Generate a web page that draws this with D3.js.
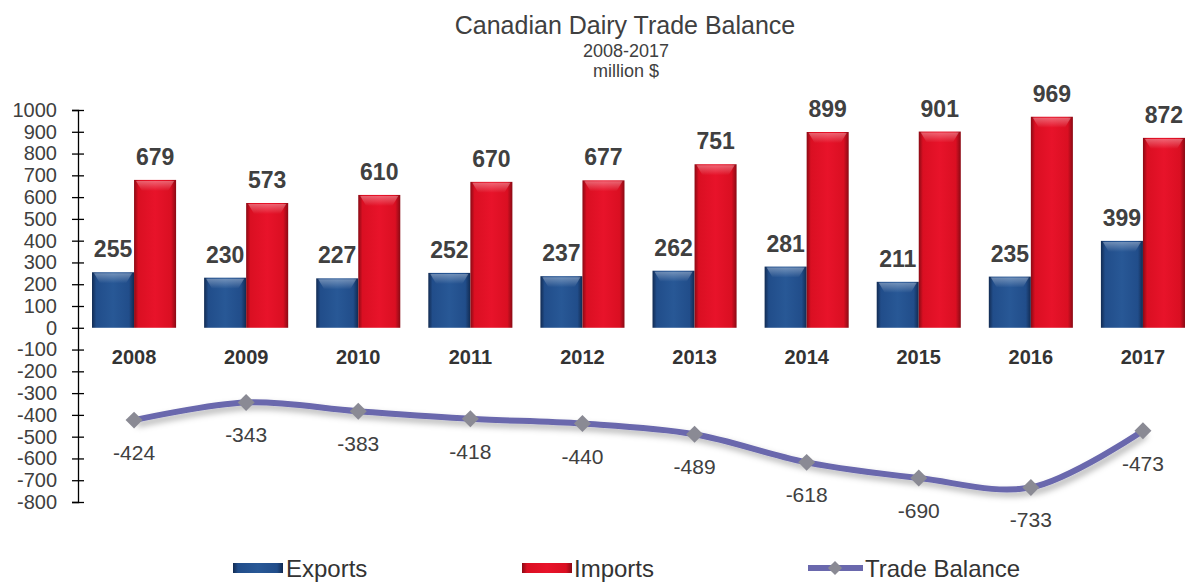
<!DOCTYPE html>
<html>
<head>
<meta charset="utf-8">
<script src="https://cdn.jsdelivr.net/npm/d3@7"></script>
<style>
  body { margin: 0; background: #fff; }
  text { font-family: "Liberation Sans", Arial, sans-serif; }
</style>
</head>
<body>
<div id="container"></div>
<script>
/* DATA */
const years = ["2008", "2009", "2010", "2011", "2012", "2013", "2014", "2015", "2016", "2017"];
const exportsVals = [255, 230, 227, 252, 237, 262, 281, 211, 235, 399];
const importsVals = [679, 573, 610, 670, 677, 751, 899, 901, 969, 872];
const balanceVals = [-424, -343, -383, -418, -440, -489, -618, -690, -733, -473];
const yTicks = [1000, 900, 800, 700, 600, 500, 400, 300, 200, 100, 0, -100, -200, -300, -400, -500, -600, -700, -800];

const width = 1190, height = 583;
const margin = { left: 78, right: -9 };

const svg = d3.select("#container").append("svg")
  .attr("width", width).attr("height", height);

const defs = svg.append("defs");
function barGrad(id, light, mid, dark) {
  const g = defs.append("linearGradient").attr("id", id)
    .attr("x1", 0).attr("x2", 1).attr("y1", 0).attr("y2", 0);
  g.append("stop").attr("offset", "0%").attr("stop-color", dark);
  g.append("stop").attr("offset", "10%").attr("stop-color", mid);
  g.append("stop").attr("offset", "50%").attr("stop-color", light);
  g.append("stop").attr("offset", "88%").attr("stop-color", mid);
  g.append("stop").attr("offset", "100%").attr("stop-color", dark);
}
barGrad("gExp", "#285896", "#214d8a", "#122b52");
barGrad("gImp", "#e8132a", "#da0f22", "#8a0a14");
const topGrad = defs.append("linearGradient").attr("id", "gTop")
  .attr("x1", 0).attr("x2", 0).attr("y1", 0).attr("y2", 1);
topGrad.append("stop").attr("offset", "0%").attr("stop-color", "#fff").attr("stop-opacity", 0.35);
topGrad.append("stop").attr("offset", "100%").attr("stop-color", "#fff").attr("stop-opacity", 0);

const shadow = defs.append("filter").attr("id", "shadow")
  .attr("x", "-10%").attr("y", "-50%").attr("width", "130%").attr("height", "250%");
shadow.append("feDropShadow").attr("dx", 3).attr("dy", 4).attr("stdDeviation", 3)
  .attr("flood-color", "#000").attr("flood-opacity", 0.3);

/* SCALES */
const yScale = d3.scaleLinear().domain([-800, 1000])
  .range([502, 110]);
const xScale = d3.scaleBand().domain(years)
  .range([margin.left, width - margin.right]).paddingInner(0.25).paddingOuter(0.125);
const xSub = d3.scaleBand().domain(["exp", "imp"]).range([0, xScale.bandwidth()]);
const cx = d => xScale(d) + xScale.bandwidth() / 2;

/* TITLE */
svg.append("text").attr("x", 625).attr("y", 34).attr("text-anchor", "middle")
  .attr("font-size", 25).attr("fill", "#404040").text("Canadian Dairy Trade Balance");
svg.append("text").attr("x", 626).attr("y", 57).attr("text-anchor", "middle")
  .attr("font-size", 18).attr("fill", "#404040").text("2008-2017");
svg.append("text").attr("x", 626).attr("y", 77).attr("text-anchor", "middle")
  .attr("font-size", 18).attr("fill", "#404040").text("million $");

/* Y AXIS */
const yAxis = d3.axisLeft(yScale).tickValues(yTicks).tickSize(6).tickPadding(15)
  .tickFormat(d => String(d));
const yg = svg.append("g").attr("transform", `translate(${margin.left},0)`).call(yAxis);
yg.select(".domain").attr("stroke", "#000").attr("stroke-width", 1.3);
yg.selectAll(".tick line").attr("x2", 6).attr("x1", -6).attr("stroke", "#000").attr("stroke-width", 1.3);
yg.selectAll(".tick text").attr("font-size", 20).attr("fill", "#404040")
  .attr("font-family", "Liberation Sans, Arial, sans-serif");

/* BARS */
const series = [
  { key: "exp", vals: exportsVals, fill: "url(#gExp)" },
  { key: "imp", vals: importsVals, fill: "url(#gImp)" }
];
series.forEach(s => {
  const g = svg.append("g");
  const rows = years.map((y, i) => ({ year: y, v: s.vals[i] }));
  g.selectAll("rect.bar").data(rows).join("rect").attr("class", "bar")
    .attr("x", d => xScale(d.year) + xSub(s.key))
    .attr("y", d => yScale(d.v))
    .attr("width", xSub.bandwidth())
    .attr("height", d => yScale(0) - yScale(d.v))
    .attr("fill", s.fill);
  // bevel highlight on top
  g.selectAll("path.hl").data(rows).join("path").attr("class", "hl")
    .attr("d", d => {
      const x0 = xScale(d.year) + xSub(s.key), w = xSub.bandwidth(), y0 = yScale(d.v);
      return `M${x0 + 2},${y0 + 1}L${x0 + w - 2},${y0 + 1}L${x0 + w - 8},${y0 + 11}L${x0 + 8},${y0 + 11}Z`;
    })
    .attr("fill", "url(#gTop)");
  g.selectAll("text").data(rows).join("text")
    .attr("x", d => xScale(d.year) + xSub(s.key) + xSub.bandwidth() / 2)
    .attr("y", d => yScale(d.v) - 15)
    .attr("text-anchor", "middle")
    .attr("font-size", 23).attr("font-weight", "bold").attr("fill", "#404040")
    .text(d => d.v);
});

/* CATEGORY LABELS */
svg.selectAll("text.cat").data(years).join("text").attr("class", "cat")
  .attr("x", d => cx(d))
  .attr("y", 364)
  .attr("text-anchor", "middle")
  .attr("font-size", 20).attr("font-weight", "bold").attr("fill", "#333")
  .text(d => d);

/* TRADE BALANCE LINE */
const pts = years.map((y, i) => ({ year: y, v: balanceVals[i] }));
const line = d3.line()
  .x(d => cx(d.year))
  .y(d => yScale(d.v))
  .curve(d3.curveCatmullRom.alpha(0.5));
svg.append("path").datum(pts).attr("d", line)
  .attr("fill", "none").attr("stroke", "#6a68ad").attr("stroke-width", 6)
  .attr("filter", "url(#shadow)");
svg.selectAll("rect.mk").data(pts).join("rect").attr("class", "mk")
  .attr("x", -6).attr("y", -6).attr("width", 12).attr("height", 12)
  .attr("fill", "#8a8a94")
  .attr("transform", d => `translate(${cx(d.year)},${yScale(d.v)}) rotate(45)`);
svg.selectAll("text.bal").data(pts).join("text").attr("class", "bal")
  .attr("x", d => cx(d.year))
  .attr("y", d => yScale(d.v) + 40)
  .attr("text-anchor", "middle")
  .attr("font-size", 21).attr("fill", "#404040")
  .text(d => d.v);

/* LEGEND */
const leg = svg.append("g");
leg.append("rect").attr("x", 233).attr("y", 563).attr("width", 50).attr("height", 10).attr("fill", "url(#gExp)");
leg.append("text").attr("x", 286).attr("y", 577).attr("font-size", 24).attr("fill", "#333").text("Exports");
leg.append("rect").attr("x", 522).attr("y", 563).attr("width", 50).attr("height", 10).attr("fill", "url(#gImp)");
leg.append("text").attr("x", 574).attr("y", 577).attr("font-size", 24).attr("fill", "#333").text("Imports");
leg.append("line").attr("x1", 808).attr("x2", 863).attr("y1", 568).attr("y2", 568)
  .attr("stroke", "#6a68ad").attr("stroke-width", 6);
leg.append("rect").attr("x", -5).attr("y", -5).attr("width", 10).attr("height", 10)
  .attr("fill", "#8a8a94").attr("transform", "translate(835,568) rotate(45)");
leg.append("text").attr("x", 865).attr("y", 577).attr("font-size", 24).attr("fill", "#333").text("Trade Balance");
</script>
</body>
</html>
